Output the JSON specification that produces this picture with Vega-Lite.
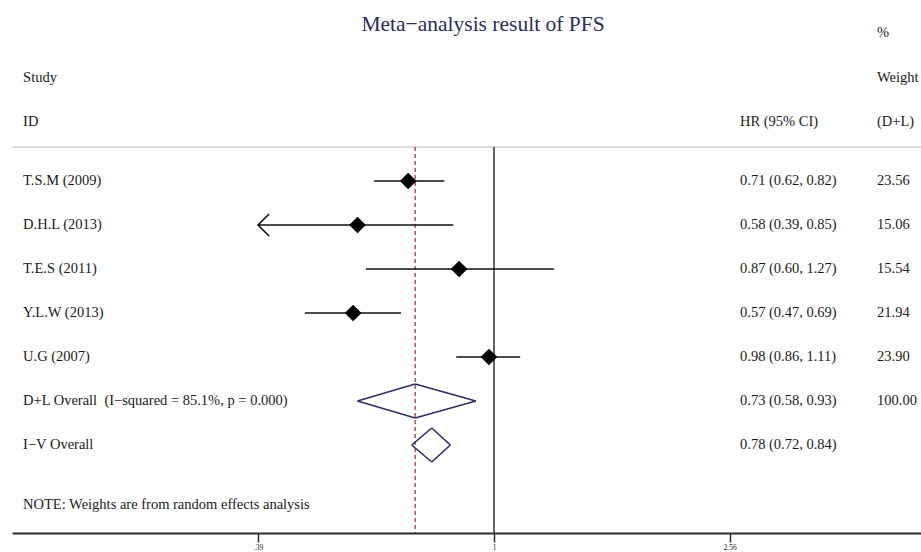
{
  "$schema": "https://vega.github.io/schema/vega-lite/v6.json",
  "width": 921,
  "height": 533,
  "autosize": {"type": "none"},
  "padding": {"left": 0, "top": 0, "right": 0, "bottom": 19},
  "background": "white",
  "config": {"view": {"stroke": null}, "axis": {"title": null}},
  "data": {
    "values": [
      {"label": "T.S.M (2009)", "row": 1, "kind": "study", "hr": 0.71, "lo": 0.62, "hi": 0.82, "ci": "0.71 (0.62, 0.82)", "weight": "23.56"},
      {"label": "D.H.L (2013)", "row": 2, "kind": "study", "hr": 0.58, "lo": 0.39, "hi": 0.85, "ci": "0.58 (0.39, 0.85)", "weight": "15.06"},
      {"label": "T.E.S (2011)", "row": 3, "kind": "study", "hr": 0.87, "lo": 0.60, "hi": 1.27, "ci": "0.87 (0.60, 1.27)", "weight": "15.54"},
      {"label": "Y.L.W (2013)", "row": 4, "kind": "study", "hr": 0.57, "lo": 0.47, "hi": 0.69, "ci": "0.57 (0.47, 0.69)", "weight": "21.94"},
      {"label": "U.G (2007)", "row": 5, "kind": "study", "hr": 0.98, "lo": 0.86, "hi": 1.11, "ci": "0.98 (0.86, 1.11)", "weight": "23.90"},
      {"label": "D+L Overall\u00a0 (I−squared = 85.1%, p = 0.000)", "row": 6, "kind": "dl", "hr": 0.73, "lo": 0.58, "hi": 0.93, "ci": "0.73 (0.58, 0.93)", "weight": "100.00"},
      {"label": "I−V Overall", "row": 7, "kind": "iv", "hr": 0.78, "lo": 0.72, "hi": 0.84, "ci": "0.78 (0.72, 0.84)", "weight": ""}
    ]
  },
  "layer": [
    {
      "data": {"values": [{}]},
      "mark": {"type": "rule", "color": "#cfcfcf", "strokeWidth": 1.6},
      "encoding": {
        "x": {"datum": 0.1461, "type": "quantitative", "scale": {"type": "log", "domain": [0.1461, 5.4953], "range": [12, 921], "nice": false, "zero": false},
              "axis": {"values": [0.39, 1, 2.56], "labelExpr": "datum.value < 0.5 ? '.39' : (datum.value < 1.5 ? '1' : '2.56')", "grid": false, "domainColor": "#2a2a2a", "domainWidth": 1.8, "tickColor": "#2a2a2a", "tickWidth": 1.5, "tickSize": 9, "labelFontSize": 7.5, "labelFont": "Liberation Serif", "labelColor": "#222222", "labelPadding": 1, "labelFlush": false, "title": null}},
        "x2": {"datum": 5.4953},
        "y": {"datum": 0.2273, "type": "quantitative", "scale": {"domain": [-3.1136, 9.0], "reverse": true, "nice": false, "zero": false}, "axis": null}
      }
    },
    {
      "data": {"values": [{}]},
      "mark": {"type": "rule", "color": "#333333", "strokeWidth": 1.5},
      "encoding": {
        "x": {"datum": 1, "type": "quantitative", "scale": {"type": "log", "domain": [0.1461, 5.4953], "range": [12, 921], "nice": false, "zero": false}},
        "y": {"datum": 0.2273, "type": "quantitative", "scale": {"domain": [-3.1136, 9.0], "reverse": true, "nice": false, "zero": false}, "axis": null},
        "y2": {"datum": 9.0}
      }
    },
    {
      "transform": [{"filter": "datum.kind == 'dl'"}],
      "mark": {"type": "rule", "color": "#a5383c", "strokeWidth": 1.3, "strokeDash": [4, 3]},
      "encoding": {
        "x": {"field": "hr", "type": "quantitative", "title": null, "scale": {"type": "log", "domain": [0.1461, 5.4953], "range": [12, 921], "nice": false, "zero": false}},
        "y": {"datum": 0.2273, "type": "quantitative", "scale": {"domain": [-3.1136, 9.0], "reverse": true, "nice": false, "zero": false}, "axis": null},
        "y2": {"datum": 9.0}
      }
    },
    {
      "transform": [{"filter": "datum.kind == 'study'"}],
      "mark": {"type": "rule", "color": "#111111", "strokeWidth": 1.6},
      "encoding": {
        "x": {"field": "lo", "type": "quantitative", "title": null, "scale": {"type": "log", "domain": [0.1461, 5.4953], "range": [12, 921], "nice": false, "zero": false}},
        "x2": {"field": "hi"},
        "y": {"field": "row", "type": "quantitative", "title": null, "scale": {"domain": [-3.1136, 9.0], "reverse": true, "nice": false, "zero": false}, "axis": null}
      }
    },
    {
      "transform": [{"filter": "datum.kind == 'study'"}],
      "mark": {"type": "point", "shape": "diamond", "filled": true, "color": "#000000", "size": 280, "opacity": 1},
      "encoding": {
        "x": {"field": "hr", "type": "quantitative", "title": null, "scale": {"type": "log", "domain": [0.1461, 5.4953], "range": [12, 921], "nice": false, "zero": false}},
        "y": {"field": "row", "type": "quantitative", "title": null, "scale": {"domain": [-3.1136, 9.0], "reverse": true, "nice": false, "zero": false}, "axis": null}
      }
    },
    {
      "transform": [{"filter": "datum.kind == 'study' && datum.lo <= 0.39"}],
      "mark": {"type": "point", "shape": "M 1 -1 L 0 0 L 1 1", "filled": false, "stroke": "#111111", "strokeWidth": 1.6, "size": 484, "opacity": 1},
      "encoding": {
        "x": {"field": "lo", "type": "quantitative", "title": null, "scale": {"type": "log", "domain": [0.1461, 5.4953], "range": [12, 921], "nice": false, "zero": false}},
        "y": {"field": "row", "type": "quantitative", "title": null, "scale": {"domain": [-3.1136, 9.0], "reverse": true, "nice": false, "zero": false}, "axis": null}
      }
    },
    {
      "transform": [{"filter": "datum.kind != 'study'"}],
      "mark": {"type": "rule", "color": "#2b2f66", "strokeWidth": 1.6, "y2Offset": -17},
      "encoding": {
        "x": {"field": "lo", "type": "quantitative", "title": null, "scale": {"type": "log", "domain": [0.1461, 5.4953], "range": [12, 921], "nice": false, "zero": false}},
        "x2": {"field": "hr"},
        "y": {"field": "row", "type": "quantitative", "title": null, "scale": {"domain": [-3.1136, 9.0], "reverse": true, "nice": false, "zero": false}, "axis": null},
        "y2": {"field": "row"}
      }
    },
    {
      "transform": [{"filter": "datum.kind != 'study'"}],
      "mark": {"type": "rule", "color": "#2b2f66", "strokeWidth": 1.6, "y2Offset": 17},
      "encoding": {
        "x": {"field": "lo", "type": "quantitative", "title": null, "scale": {"type": "log", "domain": [0.1461, 5.4953], "range": [12, 921], "nice": false, "zero": false}},
        "x2": {"field": "hr"},
        "y": {"field": "row", "type": "quantitative", "title": null, "scale": {"domain": [-3.1136, 9.0], "reverse": true, "nice": false, "zero": false}, "axis": null},
        "y2": {"field": "row"}
      }
    },
    {
      "transform": [{"filter": "datum.kind != 'study'"}],
      "mark": {"type": "rule", "color": "#2b2f66", "strokeWidth": 1.6, "yOffset": -17},
      "encoding": {
        "x": {"field": "hr", "type": "quantitative", "title": null, "scale": {"type": "log", "domain": [0.1461, 5.4953], "range": [12, 921], "nice": false, "zero": false}},
        "x2": {"field": "hi"},
        "y": {"field": "row", "type": "quantitative", "title": null, "scale": {"domain": [-3.1136, 9.0], "reverse": true, "nice": false, "zero": false}, "axis": null},
        "y2": {"field": "row"}
      }
    },
    {
      "transform": [{"filter": "datum.kind != 'study'"}],
      "mark": {"type": "rule", "color": "#2b2f66", "strokeWidth": 1.6, "yOffset": 17},
      "encoding": {
        "x": {"field": "hr", "type": "quantitative", "title": null, "scale": {"type": "log", "domain": [0.1461, 5.4953], "range": [12, 921], "nice": false, "zero": false}},
        "x2": {"field": "hi"},
        "y": {"field": "row", "type": "quantitative", "title": null, "scale": {"domain": [-3.1136, 9.0], "reverse": true, "nice": false, "zero": false}, "axis": null},
        "y2": {"field": "row"}
      }
    },
    {
      "mark": {"type": "text", "align": "left", "baseline": "middle", "font": "Liberation Serif", "fontSize": 14.5, "color": "#1a1a1a"},
      "encoding": {
        "x": {"datum": 0.1527, "type": "quantitative", "scale": {"type": "log", "domain": [0.1461, 5.4953], "range": [12, 921], "nice": false, "zero": false}},
        "y": {"field": "row", "type": "quantitative", "title": null, "scale": {"domain": [-3.1136, 9.0], "reverse": true, "nice": false, "zero": false}, "axis": null},
        "text": {"field": "label"}
      }
    },
    {
      "mark": {"type": "text", "align": "left", "baseline": "middle", "font": "Liberation Serif", "fontSize": 14.5, "color": "#1a1a1a"},
      "encoding": {
        "x": {"datum": 2.6689, "type": "quantitative", "scale": {"type": "log", "domain": [0.1461, 5.4953], "range": [12, 921], "nice": false, "zero": false}},
        "y": {"field": "row", "type": "quantitative", "title": null, "scale": {"domain": [-3.1136, 9.0], "reverse": true, "nice": false, "zero": false}, "axis": null},
        "text": {"field": "ci"}
      }
    },
    {
      "mark": {"type": "text", "align": "left", "baseline": "middle", "font": "Liberation Serif", "fontSize": 14.5, "color": "#1a1a1a"},
      "encoding": {
        "x": {"datum": 4.6108, "type": "quantitative", "scale": {"type": "log", "domain": [0.1461, 5.4953], "range": [12, 921], "nice": false, "zero": false}},
        "y": {"field": "row", "type": "quantitative", "title": null, "scale": {"domain": [-3.1136, 9.0], "reverse": true, "nice": false, "zero": false}, "axis": null},
        "text": {"field": "weight"}
      }
    },
    {
      "data": {"values": [{"h": "Study"}]},
      "mark": {"type": "text", "align": "left", "baseline": "middle", "font": "Liberation Serif", "fontSize": 14.5, "color": "#1a1a1a"},
      "encoding": {
        "x": {"datum": 0.1527, "type": "quantitative", "scale": {"type": "log", "domain": [0.1461, 5.4953], "range": [12, 921], "nice": false, "zero": false}},
        "y": {"datum": -1.3409, "type": "quantitative", "scale": {"domain": [-3.1136, 9.0], "reverse": true, "nice": false, "zero": false}, "axis": null},
        "text": {"field": "h"}
      }
    },
    {
      "data": {"values": [{"h": "ID"}]},
      "mark": {"type": "text", "align": "left", "baseline": "middle", "font": "Liberation Serif", "fontSize": 14.5, "color": "#1a1a1a"},
      "encoding": {
        "x": {"datum": 0.1527, "type": "quantitative", "scale": {"type": "log", "domain": [0.1461, 5.4953], "range": [12, 921], "nice": false, "zero": false}},
        "y": {"datum": -0.3409, "type": "quantitative", "scale": {"domain": [-3.1136, 9.0], "reverse": true, "nice": false, "zero": false}, "axis": null},
        "text": {"field": "h"}
      }
    },
    {
      "data": {"values": [{"h": "HR (95% CI)"}]},
      "mark": {"type": "text", "align": "left", "baseline": "middle", "font": "Liberation Serif", "fontSize": 14.5, "color": "#1a1a1a"},
      "encoding": {
        "x": {"datum": 2.6689, "type": "quantitative", "scale": {"type": "log", "domain": [0.1461, 5.4953], "range": [12, 921], "nice": false, "zero": false}},
        "y": {"datum": -0.3409, "type": "quantitative", "scale": {"domain": [-3.1136, 9.0], "reverse": true, "nice": false, "zero": false}, "axis": null},
        "text": {"field": "h"}
      }
    },
    {
      "data": {"values": [{"h": "%"}]},
      "mark": {"type": "text", "align": "left", "baseline": "middle", "font": "Liberation Serif", "fontSize": 14.5, "color": "#1a1a1a"},
      "encoding": {
        "x": {"datum": 4.6108, "type": "quantitative", "scale": {"type": "log", "domain": [0.1461, 5.4953], "range": [12, 921], "nice": false, "zero": false}},
        "y": {"datum": -2.3636, "type": "quantitative", "scale": {"domain": [-3.1136, 9.0], "reverse": true, "nice": false, "zero": false}, "axis": null},
        "text": {"field": "h"}
      }
    },
    {
      "data": {"values": [{"h": "Weight"}]},
      "mark": {"type": "text", "align": "left", "baseline": "middle", "font": "Liberation Serif", "fontSize": 14.5, "color": "#1a1a1a"},
      "encoding": {
        "x": {"datum": 4.6108, "type": "quantitative", "scale": {"type": "log", "domain": [0.1461, 5.4953], "range": [12, 921], "nice": false, "zero": false}},
        "y": {"datum": -1.3409, "type": "quantitative", "scale": {"domain": [-3.1136, 9.0], "reverse": true, "nice": false, "zero": false}, "axis": null},
        "text": {"field": "h"}
      }
    },
    {
      "data": {"values": [{"h": "(D+L)"}]},
      "mark": {"type": "text", "align": "left", "baseline": "middle", "font": "Liberation Serif", "fontSize": 14.5, "color": "#1a1a1a"},
      "encoding": {
        "x": {"datum": 4.6108, "type": "quantitative", "scale": {"type": "log", "domain": [0.1461, 5.4953], "range": [12, 921], "nice": false, "zero": false}},
        "y": {"datum": -0.3409, "type": "quantitative", "scale": {"domain": [-3.1136, 9.0], "reverse": true, "nice": false, "zero": false}, "axis": null},
        "text": {"field": "h"}
      }
    },
    {
      "data": {"values": [{"note": "NOTE: Weights are from random effects analysis"}]},
      "mark": {"type": "text", "align": "left", "baseline": "middle", "font": "Liberation Serif", "fontSize": 14.5, "color": "#1a1a1a"},
      "encoding": {
        "x": {"datum": 0.1527, "type": "quantitative", "scale": {"type": "log", "domain": [0.1461, 5.4953], "range": [12, 921], "nice": false, "zero": false}},
        "y": {"datum": 8.3636, "type": "quantitative", "scale": {"domain": [-3.1136, 9.0], "reverse": true, "nice": false, "zero": false}, "axis": null},
        "text": {"field": "note"}
      }
    },
    {
      "data": {"values": [{"title": "Meta−analysis result of PFS"}]},
      "mark": {"type": "text", "align": "center", "baseline": "middle", "font": "Liberation Serif", "fontSize": 21.5, "color": "#2b2d5c"},
      "encoding": {
        "x": {"datum": 0.9571, "type": "quantitative", "scale": {"type": "log", "domain": [0.1461, 5.4953], "range": [12, 921], "nice": false, "zero": false}},
        "y": {"datum": -2.5455, "type": "quantitative", "scale": {"domain": [-3.1136, 9.0], "reverse": true, "nice": false, "zero": false}, "axis": null},
        "text": {"field": "title"}
      }
    }
  ]
}
